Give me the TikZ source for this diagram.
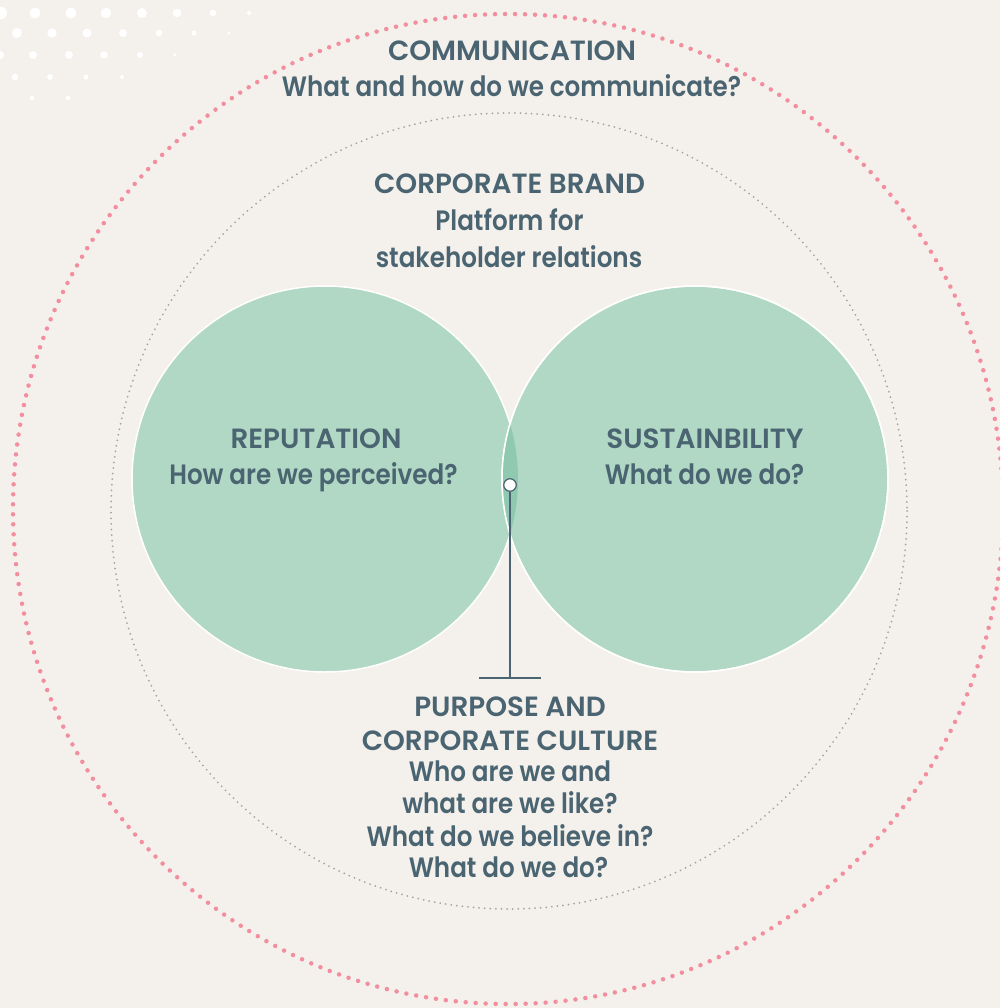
\documentclass[tikz,border=0pt]{standalone}
\usepackage{fontspec}
\setmainfont{Poppins}[UprightFont=* SemiBold]
\newfontfamily\headfont{Poppins SemiBold}
\newfontfamily\bodyfont{Poppins SemiBold}[FakeStretch=0.88]
\begin{document}
\definecolor{bg}{HTML}{F4F1EC}
\definecolor{leaf}{HTML}{B0D8C4}
\definecolor{leafdark}{HTML}{8FC9AF}
\definecolor{rose}{HTML}{F38E9E}
\definecolor{pebble}{HTML}{A8A3A2}
\definecolor{ink}{HTML}{4A6471}
\begin{tikzpicture}[x=1pt,y=-1pt,
  txt/.style={text=ink,inner sep=0pt,anchor=base},
  head/.style={txt,font=\headfont\fontsize{27.8}{30}\selectfont},
  body/.style={txt,font=\bodyfont\fontsize{28}{32}\selectfont},
  petal/.style={fill=leaf,draw=white,line width=1.5pt}]
% canvas
\fill[bg] (0,0) rectangle (1000,1008);
\useasboundingbox (0,0) rectangle (1000,1008);
\clip (0,0) rectangle (1000,1008);
% white dot field in the corner
\foreach \x/\y/\r in {1/13/6,35/13/5.5,71/13/5.5,106/13/5.2,142/13/5,177/13/4.2,213/13/3.3,249/13/2,
  17/33/5,52/33/4.7,87/33/4.5,123/33/4,159/33/3.3,194/33/2.5,229/33/1.7,
  0/55/4,33/55/4,69/55/4,104/55/3.7,140/55/3,175/55/1.7,
  15/77/3.3,50/77/3,86/77/2.5,122/77/2,
  32/98/2.2,68/98/2.2}
  \fill[white] (\x,\y) circle (\r);
% outer and inner dotted rings
\draw[rose,line width=4.5pt,line cap=round,dash pattern=on 0pt off 10pt] (508,509) circle (495);
\draw[pebble,line width=2pt,line cap=round,dash pattern=on 0pt off 5.6pt] (509,511) circle (398);
% the two overlapping circles
\coordinate (lc) at (325,479);
\coordinate (rc) at (695,479);
\draw[petal] (lc) circle (193);
\draw[petal] (rc) circle (193);
\begin{scope}
  \clip (lc) circle (193);
  \fill[leafdark] (rc) circle (193);
\end{scope}
\draw[white,line width=1.5pt] (rc) circle (193);
% pointer from the overlap down to the bottom label
\node[circle,fill=white,draw=ink,line width=1.2pt,minimum size=12.5pt,inner sep=0pt] (pin) at (510,485) {};
\coordinate (foot) at (510,678);
\coordinate (footl) at (479,678);
\coordinate (footr) at (541,678);
\draw[ink,line width=1.3pt] (pin) -- (foot);
\draw[ink,line width=1.3pt] (footl) -- (footr);
% labels
\node[head] (comm1) at (512,61) {COMMUNICATION};
\node[body] (comm2) at (511.5,96.7) {What and how do we communicate?};
\node[head] (brand1) at (509.5,193.3) {CORPORATE BRAND};
\node[body] (brand2) at (509.5,230) {Platform for};
\node[body] (brand3) at (509,267.7) {stakeholder relations};
\node[head] (rep1) at (316,448.3) {REPUTATION};
\node[body] (rep2) at (313.5,484.3) {How are we perceived?};
\node[head] (sus1) at (705,448.3) {SUSTAINBILITY};
\node[body] (sus2) at (704.5,484.3) {What do we do?};
\node[head] (purp1) at (510,716.7) {PURPOSE AND};
\node[head] (purp2) at (510,750) {CORPORATE CULTURE};
\node[body] (purp3) at (510,781.7) {Who are we and};
\node[body] (purp4) at (510,813.3) {what are we like?};
\node[body] (purp5) at (510,846) {What do we believe in?};
\node[body] (purp6) at (508.5,877.3) {What do we do?};
\end{tikzpicture}
\end{document}
